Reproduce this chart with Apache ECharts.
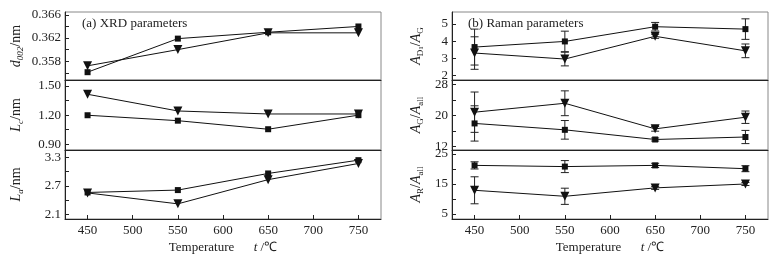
<!DOCTYPE html>
<html>
<head>
<meta charset="utf-8">
<script src="https://cdn.jsdelivr.net/npm/echarts@6/dist/echarts.min.js"></script>
<style>
html, body { margin: 0; padding: 0; background: #fff; }
#chart { width: 781px; height: 258px; }
</style>
</head>
<body>
<div id="chart"></div>
<script>
var temps = [450, 550, 650, 750];
var xTicks = [450, 500, 550, 600, 650, 700, 750];

// (a) XRD parameters
var d002Square = [0.3561, 0.3619, 0.3630, 0.3640];
var d002Tri = [0.3572, 0.3600, 0.3629, 0.3629];
var lcSquare = [1.199, 1.143, 1.055, 1.200];
var lcTri = [1.415, 1.243, 1.212, 1.212];
var laSquare = [2.56, 2.61, 2.96, 3.24];
var laTri = [2.55, 2.32, 2.83, 3.17];

// (b) Raman parameters, value and error
var adSquare = [3.65, 3.98, 4.84, 4.70];
var adSquareErr = [1.05, 0.6, 0.25, 0.6];
var adTri = [3.30, 2.95, 4.28, 3.43];
var adTriErr = [0.95, 0.4, 0.12, 0.4];
var agSquare = [17.9, 16.25, 13.76, 14.4];
var agSquareErr = [4.55, 2.4, 0.4, 1.7];
var agTri = [20.8, 23.1, 16.5, 19.5];
var agTriErr = [5.2, 3.2, 0.6, 1.6];
var arSquare = [21.2, 20.8, 21.2, 20.1];
var arSquareErr = [1.2, 2.0, 0.7, 1.0];
var arTri = [12.9, 10.9, 13.7, 15.0];
var arTriErr = [4.5, 2.7, 0.5, 0.5];

// y tick and label values per panel
var yTicks = [
    [0.356, 0.358, 0.360, 0.362, 0.364, 0.366],
    [0.90, 1.05, 1.20, 1.35, 1.50],
    [2.1, 2.4, 2.7, 3.0, 3.3],
    [2, 3, 4, 5],
    [12, 16, 20, 24, 28],
    [5, 10, 15, 20, 25]
];
var yLabels = [
    [0.358, 0.362, 0.366],
    [0.90, 1.20, 1.50],
    [2.1, 2.7, 3.3],
    [2, 3, 4, 5],
    [12, 20, 28],
    [5, 15, 25]
];
var yDigits = [3, 2, 1, 0, 0, 0];
var yRanges = [
    [0.35475, 0.3665],
    [0.841, 1.562],
    [2.001, 3.454],
    [1.725, 5.70],
    [11.05, 29.1],
    [3.33, 26.33]
];
var yNames = [
    '{i|d}{s|002}{n|/nm}',
    '{i|L}{s|c}{n|/nm}',
    '{i|L}{s|a}{n|/nm}',
    '{i|A}{u|D}{ss|1}{n|/}{i|A}{u|G}',
    '{i|A}{u|G}{n|/}{i|A}{u|all}',
    '{i|A}{u|R}{n|/}{i|A}{u|all}'
];

var font = 'Liberation Serif';
var rows = [{ top: 12, height: 68 }, { top: 80, height: 70 }, { top: 150, height: 69 }];
var cols = [{ left: 65, width: 316 }, { left: 452, width: 316 }];

function pairs(ys) {
    return temps.map(function (t, i) { return [t, ys[i]]; });
}
function errPairs(ys, es) {
    return temps.map(function (t, i) { return [t, ys[i] - es[i], ys[i] + es[i]]; });
}

var grids = [], xAxes = [], yAxes = [], series = [];
for (var c = 0; c < 2; c++) {
    for (var r = 0; r < 3; r++) {
        var k = c * 3 + r;
        var bottom = r === 2;
        grids.push({
            left: cols[c].left, width: cols[c].width,
            top: rows[r].top, height: rows[r].height,
            show: true, borderColor: '#888', borderWidth: 1
        });
        xAxes.push({
            type: 'value', gridIndex: k, min: 425, max: 775,
            axisLine: { show: true, onZero: false, lineStyle: { color: '#222', width: 1 } },
            axisTick: { show: bottom, inside: true, length: 4, customValues: xTicks, lineStyle: { color: '#222' } },
            axisLabel: { show: bottom, customValues: xTicks, margin: 5, color: '#222', fontFamily: font, fontSize: 13 },
            splitLine: { show: false },
            name: bottom ? '{n|Temperature}{n|      }{i|t}{n| /℃}' : '',
            nameLocation: 'middle', nameGap: 22,
            nameTextStyle: {
                rich: {
                    n: { fontFamily: font, fontSize: 13, color: '#222' },
                    i: { fontFamily: font, fontSize: 13, fontStyle: 'italic', color: '#222' }
                }
            }
        });
        (function (k) {
            yAxes.push({
                type: 'value', gridIndex: k,
                min: yRanges[k][0], max: yRanges[k][1],
                axisLine: { show: true, lineStyle: { color: '#222', width: 1 } },
                axisTick: { show: true, inside: true, length: 4, customValues: yTicks[k], lineStyle: { color: '#222' } },
                axisLabel: {
                    customValues: yLabels[k], margin: 4, color: '#222', fontFamily: font, fontSize: 13,
                    formatter: function (v) { return v.toFixed(yDigits[k]); }
                },
                splitLine: { show: false },
                name: yNames[k], nameLocation: 'middle', nameRotate: 90,
                nameGap: c === 0 ? 40 : 27,
                nameTextStyle: {
                    rich: {
                        i: { fontFamily: font, fontSize: 14, fontStyle: 'italic', color: '#222', lineHeight: 18 },
                        n: { fontFamily: font, fontSize: 14, color: '#222', lineHeight: 18 },
                        s: { fontFamily: font, fontSize: 9, fontStyle: 'italic', color: '#222', lineHeight: 8, verticalAlign: 'bottom' },
                        u: { fontFamily: font, fontSize: 9, color: '#222', lineHeight: 8, verticalAlign: 'bottom' },
                        ss: { fontFamily: font, fontSize: 7, color: '#222', lineHeight: 2, verticalAlign: 'bottom' }
                    }
                }
            });
        })(k);
    }
}

function lineSeries(k, ys, symbol, size) {
    return {
        type: 'line', xAxisIndex: k, yAxisIndex: k, data: pairs(ys),
        symbol: symbol, symbolSize: size, symbolRotate: symbol === 'triangle' ? 180 : 0,
        lineStyle: { color: '#111', width: 1 }, itemStyle: { color: '#111' },
        animation: false, z: 3
    };
}
function errSeries(k, ys, es) {
    return {
        type: 'custom', xAxisIndex: k, yAxisIndex: k, data: errPairs(ys, es),
        animation: false, z: 2,
        renderItem: function (params, api) {
            var lo = api.coord([api.value(0), api.value(1)]);
            var hi = api.coord([api.value(0), api.value(2)]);
            var w = 4;
            var st = { stroke: '#222', lineWidth: 1 };
            return {
                type: 'group',
                children: [
                    { type: 'line', shape: { x1: lo[0], y1: lo[1], x2: hi[0], y2: hi[1] }, style: st },
                    { type: 'line', shape: { x1: lo[0] - w, y1: lo[1], x2: lo[0] + w, y2: lo[1] }, style: st },
                    { type: 'line', shape: { x1: hi[0] - w, y1: hi[1], x2: hi[0] + w, y2: hi[1] }, style: st }
                ]
            };
        }
    };
}

series.push(lineSeries(0, d002Square, 'rect', 6), lineSeries(0, d002Tri, 'triangle', 9));
series.push(lineSeries(1, lcSquare, 'rect', 6), lineSeries(1, lcTri, 'triangle', 9));
series.push(lineSeries(2, laSquare, 'rect', 6), lineSeries(2, laTri, 'triangle', 9));
series.push(errSeries(3, adSquare, adSquareErr), errSeries(3, adTri, adTriErr));
series.push(lineSeries(3, adSquare, 'rect', 6), lineSeries(3, adTri, 'triangle', 9));
series.push(errSeries(4, agSquare, agSquareErr), errSeries(4, agTri, agTriErr));
series.push(lineSeries(4, agSquare, 'rect', 6), lineSeries(4, agTri, 'triangle', 9));
series.push(errSeries(5, arSquare, arSquareErr), errSeries(5, arTri, arTriErr));
series.push(lineSeries(5, arSquare, 'rect', 6), lineSeries(5, arTri, 'triangle', 9));

var chart = echarts.init(document.getElementById('chart'), null, { renderer: 'canvas' });
var option = {
    backgroundColor: '#fff',
    animation: false,
    title: [
        { text: '(a) XRD parameters', left: 77, top: 12, textStyle: { fontFamily: font, fontSize: 13, fontWeight: 'normal', color: '#222' } },
        { text: '(b) Raman parameters', left: 463, top: 12, textStyle: { fontFamily: font, fontSize: 13, fontWeight: 'normal', color: '#222' } }
    ],
    grid: grids,
    xAxis: xAxes,
    yAxis: yAxes,
    series: series
};
chart.setOption(option);
window.addEventListener('resize', chart.resize);
</script>
</body>
</html>
